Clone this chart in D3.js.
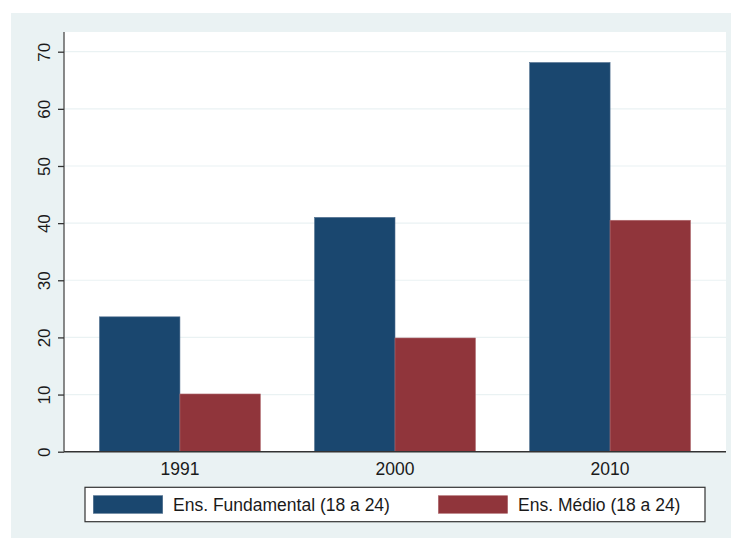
<!DOCTYPE html>
<html>
<head>
<meta charset="utf-8">
<script src="https://cdn.jsdelivr.net/npm/d3@7"></script>
<style>
  html, body { margin: 0; padding: 0; background: #ffffff; }
  svg { display: block; }
  text { font-family: "Liberation Sans", Arial, sans-serif; fill: #1a1a1a; }
</style>
</head>
<body>
<svg id="chart" width="731" height="539"></svg>
<script>
const years = ["1991", "2000", "2010"];
const seriesNames = ["Ens. Fundamental (18 a 24)", "Ens. Médio (18 a 24)"];
const fundamental = [23.6, 41.0, 68.1];
const medio = [10.1, 19.9, 40.5];
const yTicks = [0, 10, 20, 30, 40, 50, 60, 70];
const colors = ["#1a476f", "#90353b"];

const svg = d3.select("#chart");
const W = 731, H = 539;
const plot = { left: 64, right: 726, top: 32, bottom: 451.7 };

// outer background
svg.append("rect").attr("x", 11).attr("y", 13).attr("width", W - 11).attr("height", H - 13 - 1)
  .attr("fill", "#eaf2f3");

// plot region
svg.append("rect").attr("x", plot.left).attr("y", plot.top)
  .attr("width", plot.right - plot.left).attr("height", plot.bottom - plot.top)
  .attr("fill", "#ffffff");

const y = d3.scaleLinear().domain([0, 70]).range([plot.bottom, 51.7]);
const x0 = d3.scaleBand().domain(years).range([plot.left, plot.right])
  .paddingInner(0.252).paddingOuter(0.165);
const x1 = d3.scaleBand().domain([0, 1]).range([0, x0.bandwidth()]);

// gridlines
svg.append("g").selectAll("line").data(yTicks.filter(d => d > 0)).join("line")
  .attr("x1", plot.left).attr("x2", plot.right)
  .attr("y1", d => y(d)).attr("y2", d => y(d))
  .attr("stroke", "#eaf2f3").attr("stroke-width", 1.2);

// bars
const data = years.map((yr, i) => ({ yr, vals: [fundamental[i], medio[i]] }));
const groups = svg.append("g").selectAll("g").data(data).join("g")
  .attr("transform", d => `translate(${x0(d.yr)},0)`);
groups.selectAll("rect").data(d => d.vals.map((v, k) => ({ v, k }))).join("rect")
  .attr("x", d => x1(d.k))
  .attr("width", x1.bandwidth())
  .attr("y", d => y(d.v))
  .attr("height", d => y(0) - y(d.v))
  .attr("fill", d => colors[d.k])
  .attr("stroke", d => d.k === 0 ? "#4d6d8c" : "#b06a6f")
  .attr("stroke-width", 0.6);

// y axis
const yAxis = d3.axisLeft(y).tickValues(yTicks).tickSize(6).tickPadding(0).tickFormat(d3.format("d"));
const yg = svg.append("g").attr("transform", `translate(${plot.left},0)`).call(yAxis);
yg.select(".domain").attr("d", `M0,${plot.top}V${plot.bottom}`).attr("stroke", "#6b6b6b").attr("stroke-width", 1.6);
yg.selectAll(".tick line").attr("stroke", "#333").attr("stroke-width", 1.3);
yg.selectAll(".tick text")
  .attr("transform", "rotate(-90)")
  .attr("x", 0).attr("y", -14).attr("dy", 0)
  .attr("text-anchor", "middle")
  .style("font-size", "17px")
  .style("font-family", "'Liberation Sans', Arial, sans-serif")
  .attr("fill", "#1a1a1a");

// x axis
const xg = svg.append("g").attr("transform", `translate(0,${plot.bottom})`)
  .call(d3.axisBottom(x0).tickSize(0).tickPadding(0));
xg.select(".domain").attr("d", `M${plot.left},0H${plot.right}`).attr("stroke", "#333").attr("stroke-width", 1.6);
xg.selectAll(".tick text").attr("y", 23.5).attr("dy", 0)
  .style("font-size", "17.5px")
  .style("font-family", "'Liberation Sans', Arial, sans-serif")
  .attr("fill", "#1a1a1a");

// legend
const leg = svg.append("g");
leg.append("rect").attr("x", 85).attr("y", 487.3).attr("width", 620).attr("height", 34.4)
  .attr("fill", "#ffffff").attr("stroke", "#333").attr("stroke-width", 1.2);
const legX = [93.3, 438.3];
seriesNames.forEach((name, k) => {
  leg.append("rect").attr("x", legX[k]).attr("y", 495.7).attr("width", 69.4).attr("height", 17.6)
    .attr("fill", colors[k]).attr("stroke", k === 0 ? "#4d6d8c" : "#b06a6f").attr("stroke-width", 0.6);
  leg.append("text").attr("x", legX[k] + 79.7).attr("y", 510.8)
    .style("font-size", "17.5px").text(name);
});
</script>
</body>
</html>
